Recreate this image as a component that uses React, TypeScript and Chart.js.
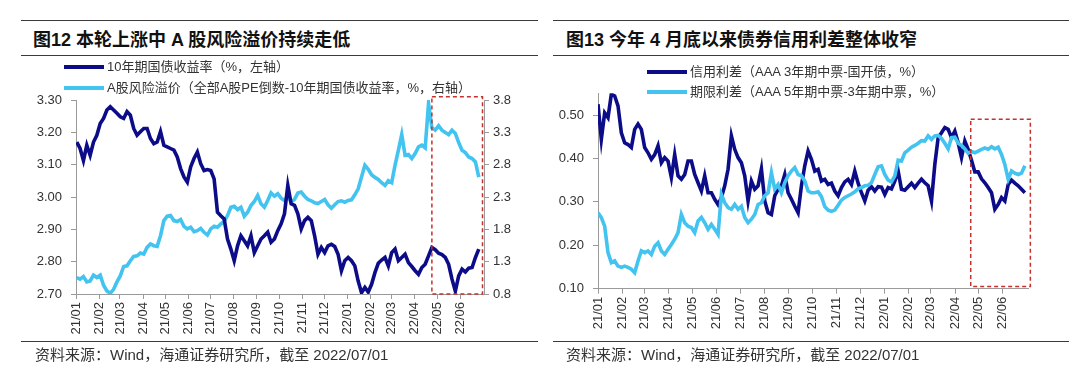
import React, { useEffect, useRef } from 'react';
import { Chart, registerables } from 'chart.js';

Chart.register(...registerables);

// ---------- shared axis labels ----------
const monthLabels = ['21/01', '21/02', '21/03', '21/04', '21/05', '21/06', '21/07', '21/08', '21/09', '21/10', '21/11', '21/12', '22/01', '22/02', '22/03', '22/04', '22/05', '22/06'];
const monthStarts = ['2021-01-01', '2021-02-01', '2021-03-01', '2021-04-01', '2021-05-01', '2021-06-01', '2021-07-01', '2021-08-01', '2021-09-01', '2021-10-01', '2021-11-01', '2021-12-01', '2022-01-01', '2022-02-01', '2022-03-01', '2022-04-01', '2022-05-01', '2022-06-01'];
const AXIS_START = '2021-01-01';
const AXIS_END = '2022-07-03';

// ---------- chart 12 ----------
const leftTicks = [2.7, 2.8, 2.9, 3.0, 3.1, 3.2, 3.3];
const rightTicks = [0.8, 1.3, 1.8, 2.3, 2.8, 3.3, 3.8];
const c12First = '2021-01-02';
const c12Last = '2022-06-26';
const bondYield10y = [
  3.17, 3.15, 3.113, 3.16, 3.129, 3.17, 3.191, 3.227, 3.243, 3.269,
  3.279, 3.269, 3.259, 3.248, 3.243, 3.264, 3.253, 3.212, 3.191, 3.202,
  3.212, 3.212, 3.181, 3.165, 3.17, 3.202, 3.16, 3.155, 3.15, 3.145,
  3.124, 3.088, 3.062, 3.046, 3.093, 3.119, 3.139, 3.103, 3.082, 3.085,
  3.082, 3.056, 2.953, 2.942, 2.932, 2.87, 2.839, 2.803, 2.849, 2.88,
  2.865, 2.849, 2.88, 2.828, 2.849, 2.87, 2.88, 2.891, 2.86, 2.87,
  2.896,
  2.917, 2.948, 3.036, 2.979, 2.974, 2.948, 2.901, 2.927, 2.937, 2.927,
  2.88, 2.823, 2.844, 2.828, 2.849, 2.854, 2.847, 2.823, 2.772, 2.803,
  2.813, 2.803, 2.787, 2.74, 2.704, 2.72, 2.706, 2.73, 2.766, 2.795,
  2.805, 2.813, 2.787, 2.828, 2.839, 2.803, 2.813, 2.823, 2.797, 2.785,
  2.772, 2.761, 2.782, 2.792, 2.818, 2.844, 2.837, 2.826, 2.822, 2.813,
  2.792, 2.746, 2.709, 2.756, 2.777, 2.768, 2.78, 2.782, 2.813, 2.839,
];
const riskPremium = [
  1.055, 1.029, 1.07, 0.987, 1.003, 1.091, 1.055, 1.091, 0.935, 0.847,
  0.811, 0.873, 0.987, 1.08, 1.226, 1.236, 1.314, 1.381, 1.391, 1.433,
  1.417, 1.521, 1.573, 1.547, 1.536, 1.702, 1.935, 2.003, 2.013, 1.935,
  1.92, 1.951, 1.847, 1.806, 1.832, 1.764, 1.78, 1.816, 1.754, 1.712,
  1.806, 1.847, 1.832, 1.883, 1.92, 2.013, 2.142, 2.158, 2.106, 2.142,
  2.003, 2.065, 2.168, 2.23, 2.324, 2.194, 2.142, 2.246, 2.365, 2.313,
  2.35,
  2.282, 2.246, 2.313, 2.22, 2.262, 2.36, 2.376, 2.313, 2.262, 2.241,
  2.21, 2.199, 2.23, 2.262, 2.179, 2.127, 2.179, 2.23, 2.241, 2.22,
  2.246, 2.256, 2.334, 2.427, 2.609, 2.79, 2.728, 2.645, 2.603, 2.572,
  2.521, 2.479, 2.552, 2.521, 2.79, 3.023, 3.266, 2.945, 2.956, 2.894,
  2.971, 3.075, 3.101, 3.059, 3.748, 3.37, 3.334, 3.401, 3.334, 3.298,
  3.266, 3.334, 3.282, 3.142, 3.023, 2.987, 2.919, 2.894, 2.842, 2.609,
];
const c12Box = { from: '2022-04-24', to: '2022-07-01', top: 3.85, bottom: 0.8 };

// ---------- chart 13 ----------
const spreadTicks = [0.1, 0.2, 0.3, 0.4, 0.5];
const c13First = '2021-01-01';
const c13Last = '2022-06-29';
const creditSpread = [
  0.525, 0.444, 0.505, 0.494, 0.548, 0.544, 0.521, 0.459, 0.436, 0.432,
  0.425, 0.467, 0.479, 0.467, 0.425, 0.413, 0.398, 0.409, 0.429, 0.39,
  0.402, 0.394, 0.356, 0.409, 0.36, 0.352, 0.363, 0.394, 0.394, 0.363,
  0.344, 0.325, 0.36, 0.321, 0.321, 0.306, 0.294, 0.31, 0.337, 0.375,
  0.452, 0.421, 0.402, 0.39, 0.36, 0.302, 0.348, 0.329, 0.337, 0.376,
  0.302, 0.275, 0.271, 0.314, 0.329, 0.337, 0.363, 0.321, 0.306, 0.29,
  0.275, 0.337, 0.383, 0.417,
  0.398, 0.371, 0.375, 0.348, 0.352, 0.34, 0.343, 0.325, 0.314, 0.333,
  0.346, 0.352, 0.34, 0.371, 0.343, 0.321, 0.302, 0.327, 0.335, 0.325,
  0.335, 0.334, 0.317, 0.333, 0.33, 0.348, 0.371, 0.329, 0.327, 0.335,
  0.343, 0.333, 0.343, 0.352, 0.344, 0.337, 0.302, 0.386, 0.448, 0.459,
  0.471, 0.467, 0.448, 0.463, 0.436, 0.402, 0.44, 0.421, 0.396, 0.369,
  0.369, 0.353, 0.344, 0.333, 0.321, 0.283, 0.294, 0.31, 0.302, 0.34,
  0.35, 0.343, 0.337, 0.329, 0.321,
];
const termSpread = [
  0.275, 0.264, 0.244, 0.183, 0.16, 0.164, 0.152, 0.149, 0.152, 0.149,
  0.145, 0.137, 0.164, 0.187, 0.183, 0.187, 0.179, 0.198, 0.206, 0.187,
  0.179, 0.191, 0.202, 0.214, 0.229, 0.271, 0.252, 0.244, 0.241, 0.229,
  0.256, 0.264, 0.252, 0.237, 0.248, 0.237, 0.225, 0.317, 0.298, 0.287,
  0.283, 0.294, 0.283, 0.29, 0.264, 0.252, 0.26, 0.271, 0.294, 0.298,
  0.314, 0.321, 0.367, 0.329, 0.34, 0.321, 0.344, 0.36, 0.371, 0.379,
  0.363, 0.36, 0.348, 0.325,
  0.321, 0.321, 0.323, 0.312, 0.289, 0.281, 0.278, 0.281, 0.292, 0.304,
  0.31, 0.314, 0.318, 0.323, 0.33, 0.333, 0.337, 0.338, 0.344, 0.363,
  0.381, 0.383, 0.363, 0.35, 0.346, 0.36, 0.396, 0.394, 0.413, 0.419,
  0.426, 0.43, 0.435, 0.441, 0.44, 0.452, 0.444, 0.452, 0.453, 0.446,
  0.435, 0.422, 0.448, 0.449, 0.435, 0.43, 0.422, 0.412, 0.416, 0.413,
  0.417, 0.421, 0.424, 0.421, 0.427, 0.422, 0.426, 0.409, 0.386, 0.352,
  0.371, 0.366, 0.363, 0.366, 0.383,
];
const c13Box = { from: '2022-04-21', to: '2022-07-06', top: 0.49, bottom: 0.105 };

// ---------- styling ----------
const NAVY = '#0c0c88';
const CYAN = '#43c3f0';
const AXIS = '#9a9a9a';
const TXT = '#333333';
const FONT = "'Liberation Sans', Arial, 'Noto Sans CJK SC', sans-serif";
const LINE_W = 3.6;

const dayOf = (s: string) => {
  const [y, m, d] = s.split('-').map(Number);
  return (Date.UTC(y, m - 1, d) - Date.UTC(2021, 0, 1)) / 86400000;
};

const toPoints = (values: number[], first: string, last: string) => {
  const a = dayOf(first);
  const b = dayOf(last);
  const n = values.length;
  return values.map((v, i) => ({ x: a + ((b - a) * i) / (n - 1), y: v }));
};

const boxPlugin = {
  id: 'dashBox',
  afterDatasetsDraw(chart: any, _args: any, opts: any) {
    if (!opts || !opts.axis) return;
    const xs = chart.scales.x;
    const ys = chart.scales[opts.axis];
    const x0 = xs.getPixelForValue(dayOf(opts.from));
    const x1 = xs.getPixelForValue(dayOf(opts.to));
    const y0 = ys.getPixelForValue(opts.top);
    const y1 = ys.getPixelForValue(opts.bottom);
    const ctx = chart.ctx;
    ctx.save();
    ctx.strokeStyle = '#c8302e';
    ctx.lineWidth = 1.5;
    ctx.setLineDash([4, 3]);
    ctx.strokeRect(x0, y0, x1 - x0, y1 - y0);
    ctx.restore();
  },
};

const tickFont = { family: FONT, size: 13 };

const xScale = (height: number) => ({
  type: 'linear',
  min: dayOf(AXIS_START),
  max: dayOf(AXIS_END),
  afterBuildTicks: (s: any) => {
    s.ticks = monthStarts.map((d) => ({ value: dayOf(d) }));
  },
  afterFit: (s: any) => {
    s.height = height;
  },
  ticks: {
    autoSkip: false,
    minRotation: 90,
    maxRotation: 90,
    padding: 3,
    color: TXT,
    font: tickFont,
    callback: (v: any) => {
      const i = monthStarts.findIndex((d) => dayOf(d) === v);
      return i >= 0 ? monthLabels[i] : '';
    },
  },
  grid: { display: true, drawOnChartArea: false, drawTicks: true, tickLength: 5, color: AXIS },
  border: { display: true, color: AXIS, width: 1 },
});

const yScale = (position: string, min: number, max: number, ticks: number[], digits: number, width: number, padding: number) => ({
  type: 'linear',
  position,
  min,
  max,
  afterBuildTicks: (s: any) => {
    s.ticks = ticks.map((v) => ({ value: v }));
  },
  afterFit: (s: any) => {
    s.width = width;
  },
  ticks: {
    padding,
    color: TXT,
    font: tickFont,
    callback: (v: any) => Number(v).toFixed(digits),
  },
  grid: { display: true, drawOnChartArea: false, drawTicks: true, tickLength: 5, color: AXIS },
  border: { display: true, color: AXIS, width: 1 },
});

function useChart(ref: React.RefObject<HTMLCanvasElement | null>, makeConfig: () => any) {
  useEffect(() => {
    if (!ref.current) return;
    const chart = new Chart(ref.current, makeConfig());
    return () => chart.destroy();
  }, []);
}

const Rule = ({ x, y, w }: { x: number; y: number; w: number }) => (
  <div style={{ position: 'absolute', left: x, top: y, width: w, height: 1.6, background: '#3a3a3a' }} />
);

const LegendItem = ({ x, y, color, text }: { x: number; y: number; color: string; text: string }) => (
  <div style={{ position: 'absolute', left: x, top: y - 9, height: 18, display: 'flex', alignItems: 'center', whiteSpace: 'nowrap', zIndex: 2 }}>
    <div style={{ width: 40, height: 3.5, background: color, marginRight: 3 }} />
    <span style={{ fontSize: 13, color: TXT, lineHeight: '18px' }}>{text}</span>
  </div>
);

export default function App() {
  const leftRef = useRef<HTMLCanvasElement | null>(null);
  const rightRef = useRef<HTMLCanvasElement | null>(null);

  useChart(leftRef, () => ({
    type: 'line',
    data: {
      datasets: [
        { label: '10年期国债收益率（%，左轴）', data: toPoints(bondYield10y, c12First, c12Last), yAxisID: 'y', borderColor: NAVY, borderWidth: LINE_W, pointRadius: 0, tension: 0, order: 1 },
        { label: 'A股风险溢价（全部A股PE倒数-10年期国债收益率，%，右轴）', data: toPoints(riskPremium, c12First, c12Last), yAxisID: 'y1', borderColor: CYAN, borderWidth: LINE_W, pointRadius: 0, tension: 0, order: 2 },
      ],
    },
    options: {
      responsive: false,
      animation: false,
      layout: { padding: { top: 40, left: 0, right: 0, bottom: 0 } },
      plugins: { legend: { display: false }, tooltip: { enabled: false }, dashBox: { axis: 'y1', ...c12Box } },
      scales: {
        x: xScale(51),
        y: yScale('left', 2.7, 3.3, leftTicks, 2, 76, 9),
        y1: yScale('right', 0.8, 3.8, rightTicks, 1, 56, 4),
      },
    },
    plugins: [boxPlugin],
  }));

  useChart(rightRef, () => ({
    type: 'line',
    data: {
      datasets: [
        { label: '期限利差（AAA 5年期中票-3年期中票，%）', data: toPoints(termSpread, c13First, c13Last), yAxisID: 'y', borderColor: CYAN, borderWidth: LINE_W, pointRadius: 0, tension: 0, order: 1 },
        { label: '信用利差（AAA 3年期中票-国开债，%）', data: toPoints(creditSpread, c13First, c13Last), yAxisID: 'y', borderColor: NAVY, borderWidth: LINE_W, pointRadius: 0, tension: 0, order: 2 },
      ],
    },
    options: {
      responsive: false,
      animation: false,
      layout: { padding: { top: 33.3, left: 0, right: 52, bottom: 0 } },
      plugins: { legend: { display: false }, tooltip: { enabled: false }, dashBox: { axis: 'y', ...c13Box } },
      scales: {
        x: xScale(56.3),
        y: yScale('left', 0.1, 0.55, spreadTicks, 2, 58, 9),
      },
    },
    plugins: [boxPlugin],
  }));

  return (
    <div style={{ position: 'fixed', left: 0, top: 0, width: 1080, height: 372, background: '#fff', overflow: 'hidden', fontFamily: FONT, color: TXT }}>
      {/* ---- left panel ---- */}
      <Rule x={21} y={19.5} w={517} />
      <div style={{ position: 'absolute', left: 33, top: 28, fontSize: 18, fontWeight: 'bold', lineHeight: '24px', color: '#111', whiteSpace: 'nowrap' }}>图12 本轮上涨中 A 股风险溢价持续走低</div>
      <Rule x={21} y={54.5} w={517} />
      <LegendItem x={64} y={67} color={NAVY} text="10年期国债收益率（%，左轴）" />
      <LegendItem x={64} y={88} color={CYAN} text="A股风险溢价（全部A股PE倒数-10年期国债收益率，%，右轴）" />
      <canvas ref={leftRef} width={540} height={285} style={{ position: 'absolute', left: 0, top: 60, width: 540, height: 285 }} />
      <Rule x={21} y={340.5} w={517} />
      <div style={{ position: 'absolute', left: 35, top: 346, fontSize: 15, lineHeight: '18px', whiteSpace: 'nowrap' }}>资料来源：Wind，海通证券研究所，截至 2022/07/01</div>

      {/* ---- right panel ---- */}
      <Rule x={553} y={19.5} w={516} />
      <div style={{ position: 'absolute', left: 566, top: 28, fontSize: 18, fontWeight: 'bold', lineHeight: '24px', color: '#111', whiteSpace: 'nowrap' }}>图13 今年 4 月底以来债券信用利差整体收窄</div>
      <Rule x={553} y={54.5} w={516} />
      <LegendItem x={647} y={72} color={NAVY} text="信用利差（AAA 3年期中票-国开债，%）" />
      <LegendItem x={647} y={92} color={CYAN} text="期限利差（AAA 5年期中票-3年期中票，%）" />
      <canvas ref={rightRef} width={540} height={285} style={{ position: 'absolute', left: 540, top: 60, width: 540, height: 285 }} />
      <Rule x={553} y={340.5} w={516} />
      <div style={{ position: 'absolute', left: 566, top: 346, fontSize: 15, lineHeight: '18px', whiteSpace: 'nowrap' }}>资料来源：Wind，海通证券研究所，截至 2022/07/01</div>
    </div>
  );
}
